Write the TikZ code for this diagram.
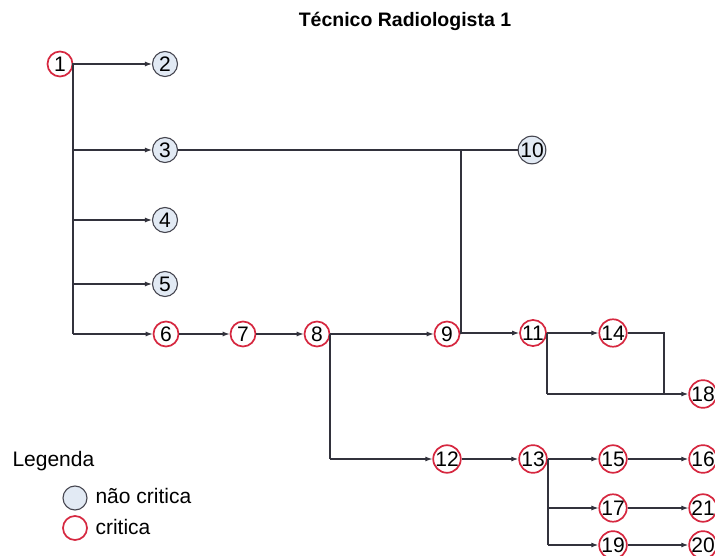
\documentclass[tikz,border=0pt]{standalone}
\usepackage{fontspec}
\setmainfont{Liberation Sans}
\usetikzlibrary{arrows.meta}
\definecolor{critred}{RGB}{214,40,64}
\definecolor{ncfill}{RGB}{226,234,244}
\definecolor{ncdraw}{RGB}{70,70,80}
\definecolor{linec}{RGB}{50,50,60}
\tikzset{
  base/.style={circle, minimum size=25pt, inner sep=0pt, font=\fontsize{21}{21}\selectfont},
  crit/.style={base, draw=critred, line width=1.7pt, fill=white},
  ncrit/.style={base, draw=ncdraw, line width=1.1pt, fill=ncfill},
  conn/.style={draw=linec, line width=1.1pt},
  arr/.style={conn, -{Latex[length=7pt,width=5pt]}},
  txt/.style={font=\fontsize{21}{21}\selectfont},
}
\begin{document}
\begin{tikzpicture}[x=1pt,y=-1pt]
\useasboundingbox (0,0) rectangle (715,556);
\clip (0,0) rectangle (715,556);
\node[font=\bfseries\fontsize{19.5}{19.5}\selectfont] (title) at (405,21) {Técnico Radiologista 1};
% coordinates
\coordinate (v1a) at (73,64);
\coordinate (v1b) at (73,150);
\coordinate (v1c) at (73,220);
\coordinate (v1d) at (73,284);
\coordinate (v1e) at (73,334);
\coordinate (j10) at (461,150);
\coordinate (j9) at (461,333);
\coordinate (j8) at (330,334);
\coordinate (j8b) at (330,459);
\coordinate (j11) at (547,333);
\coordinate (j11b) at (547,394);
\coordinate (j14) at (664,333);
\coordinate (j14b) at (664,394);
\coordinate (j13) at (548,459);
\coordinate (j13b) at (548,508);
\coordinate (j13c) at (548,545);
% nodes
\node[crit] (n1) at (60,64) {1};
\node[ncrit] (n2) at (165,64) {2};
\node[ncrit] (n3) at (165,150) {3};
\node[ncrit] (n4) at (165,220) {4};
\node[ncrit] (n5) at (165,284) {5};
\node[crit] (n6) at (166,334) {6};
\node[crit] (n7) at (243,334) {7};
\node[crit] (n8) at (317,334) {8};
\node[crit] (n9) at (447,334) {9};
\node[ncrit] (n10) at (532,150) {10};
\node[crit] (n11) at (533,333) {11};
\node[crit] (n12) at (447,459) {12};
\node[crit] (n13) at (533,459) {13};
\node[crit] (n14) at (613,333) {14};
\node[crit] (n15) at (613,459) {15};
\node[crit] (n16) at (703,459) {16};
\node[crit] (n17) at (613,508) {17};
\node[crit] (n18) at (703,394) {18};
\node[crit] (n19) at (613,545) {19};
\node[crit] (n20) at (703,545) {20};
\node[crit] (n21) at (703,508) {21};
% connectors
\draw[conn] (n1.east) -- (v1a) -- (v1e);
\draw[arr] (v1a) -- (n2.west);
\draw[arr] (v1b) -- (n3.west);
\draw[arr] (v1c) -- (n4.west);
\draw[arr] (v1d) -- (n5.west);
\draw[arr] (v1e) -- (n6.west);
\draw[arr] (n6.east) -- (n7.west);
\draw[arr] (n7.east) -- (n8.west);
\draw[arr] (n8.east) -- (n9.west);
\draw[conn] (n3.east) -- (n10.west);
\draw[conn] (j10) -- (j9);
\draw[arr] (j9) -- (n11.west);
\draw[conn] (n9.east) -- (j9);
\draw[conn] (j8) -- (j8b);
\draw[arr] (j8b) -- (n12.west);
\draw[arr] (n12.east) -- (n13.west);
\draw[arr] (n11.east) -- (n14.west);
\draw[conn] (j11) -- (j11b);
\draw[arr] (j11b) -- (n18.west);
\draw[conn] (n14.east) -- (j14) -- (j14b);
\draw[arr] (n13.east) -- (n15.west);
\draw[conn] (j13) -- (j13c);
\draw[arr] (j13b) -- (n17.west);
\draw[arr] (j13c) -- (n19.west);
\draw[arr] (n15.east) -- (n16.west);
\draw[arr] (n17.east) -- (n21.west);
\draw[arr] (n19.east) -- (n20.west);
% legend
\node[anchor=west, txt] (leg) at (9,461) {Legenda};
\node[ncrit, minimum size=24pt] (lc1) at (75,498) {};
\node[crit, minimum size=24pt] (lc2) at (75,528) {};
\node[anchor=west, txt] (lt1) at (92,496) {não critica};
\node[anchor=west, txt] (lt2) at (92,527) {critica};
\end{tikzpicture}
\end{document}
